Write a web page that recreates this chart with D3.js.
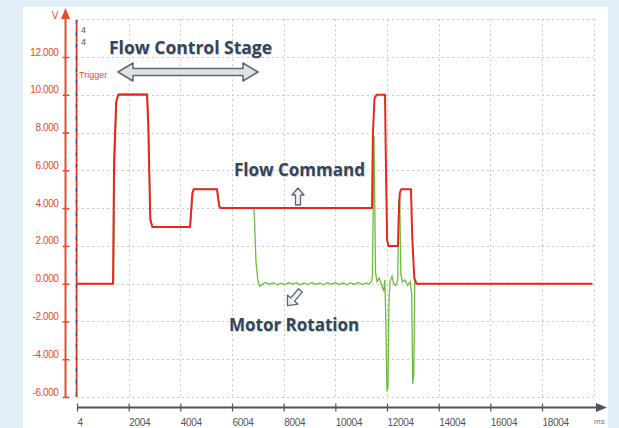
<!DOCTYPE html>
<html>
<head>
<meta charset="utf-8">
<script src="https://cdn.jsdelivr.net/npm/d3@7"></script>
<style>
  body { margin: 0; background: #e2eef8; }
  svg { display: block; }
</style>
</head>
<body>
<div id="chart"></div>
<script>
// Flow command (red) and motor rotation (green), time in ms, value in V
var cmdTime  = [4, 1398, 1440, 1520, 1600, 2714, 2760, 2840, 2920, 4378, 4420, 4470, 4520, 5423, 5460, 5510, 5560, 11424, 11460, 11520, 11600, 11927, 11960, 12010, 12060, 12430, 12460, 12500, 12550, 12933, 12980, 13060, 13140, 19950];
var cmdVolts = [0, 0, 6.5, 9.6, 10, 10, 8.5, 3.4, 3, 3, 3.8, 4.8, 5, 5, 4.6, 4.1, 4, 4, 8.0, 9.8, 10, 10, 6.5, 2.3, 2, 2, 3.6, 4.8, 5, 5, 2.5, 0.3, 0, 0];

var motTime  = [4, 1420, 1460, 1540, 1620, 2730, 2770, 2850, 2930, 4390, 4430, 4480, 4530, 5430, 5470, 5520, 5570, 6850, 6880, 6930, 7000, 7080, 7166, 7300, 7450, 7600, 7750, 7900, 8050, 8200, 8350, 8500, 8650, 8800, 8950, 9100, 9250, 9400, 9550, 9700, 9850, 10000, 10150, 10300, 10450, 10600, 10750, 10900, 11050, 11200, 11300, 11400, 11440, 11500, 11560, 11620, 11700, 11800, 11880, 11920, 11960, 12000, 12040, 12080, 12120, 12200, 12260, 12340, 12420, 12460, 12500, 12540, 12600, 12700, 12800, 12900, 12960, 13000, 13040, 13080, 13150, 19950];
var motVolts = [0, 0, 6.5, 9.7, 10.05, 10.05, 8.5, 3.4, 3, 3, 3.8, 4.8, 5, 5, 4.6, 4.1, 4, 4, 3.2, 1.2, 0.2, -0.15, -0.05, 0.06, -0.04, 0.05, -0.06, 0.03, -0.05, 0.06, -0.03, 0.05, -0.06, 0.04, -0.05, 0.06, -0.04, 0.03, -0.06, 0.05, -0.03, 0.06, -0.05, 0.04, -0.06, 0.05, -0.04, 0.06, -0.05, 0.04, -0.03, 0.1, 0.4, 7.8, 0.6, 0.1, 0.3, -0.1, -0.4, 0.2, -2, -5.7, -5.5, -1, 0.1, 0.4, 0, -0.1, 0.2, 4.5, 4.2, 0.5, 0.1, 0.2, -0.1, 0.1, -0.6, -5.3, -4.8, 0.2, 0, 0];

var xTicks = [4, 2004, 4004, 6004, 8004, 10004, 12004, 14004, 16004, 18004];
var xGrid  = [4, 2004, 4004, 6004, 8004, 10004, 12004, 14004, 16004, 18004, 20004];
var yTicks = [-6, -4, -2, 0, 2, 4, 6, 8, 10, 12];
var yGrid  = [-6, -4, -2, 0, 2, 4, 6, 8, 10, 12, 14];

var W = 619, H = 428;
var red = "#e8261c", green = "#6dbd3e", axisRed = "#e84a2e", dark = "#4b5560";

var svg = d3.select("#chart").append("svg")
  .attr("width", W).attr("height", H);

// background + white panel
svg.append("rect").attr("width", W).attr("height", H).attr("fill", "#e2eef8");
svg.append("rect").attr("x", 23).attr("y", 7).attr("width", 585).attr("height", H - 7)
  .attr("fill", "#ffffff");

var x = d3.scaleLinear().domain([4, 18004]).range([77, 542]);
var y = d3.scaleLinear().domain([-6, 12]).range([397, 57]);

// dotted grid
var grid = svg.append("g").attr("stroke", "#c9c9c9").attr("stroke-dasharray", "2,3").attr("stroke-width", 1);
grid.selectAll(".h").data(yGrid).enter().append("line")
  .attr("x1", 77).attr("x2", x(20004))
  .attr("y1", function(d) { return Math.round(y(d)) + 0.5; })
  .attr("y2", function(d) { return Math.round(y(d)) + 0.5; });
grid.selectAll(".v").data(xGrid).enter().append("line")
  .attr("y1", y(14)).attr("y2", y(-6))
  .attr("x1", function(d) { return Math.round(x(d)) + 0.5; })
  .attr("x2", function(d) { return Math.round(x(d)) + 0.5; });

// Y axis (red) with arrow
var yAxis = svg.append("g")
  .attr("transform", "translate(65.5,0)")
  .call(d3.axisLeft(y).tickValues(yTicks).tickFormat(function(d) { return d.toFixed(3); }));
yAxis.select(".domain").remove();
yAxis.selectAll(".tick line").attr("x1", -3).attr("x2", 4).attr("stroke", axisRed).attr("stroke-width", 1.5);
yAxis.selectAll(".tick text")
  .attr("x", -7).attr("dy", "-0.2em")
  .attr("fill", axisRed)
  .style("font-family", "Liberation Sans, Arial, sans-serif")
  .style("font-size", "10px")
  .style("letter-spacing", "-0.4px");
svg.append("line").attr("x1", 65.5).attr("x2", 65.5).attr("y1", y(-6)).attr("y2", 14)
  .attr("stroke", axisRed).attr("stroke-width", 2);
svg.append("path").attr("d", "M65.5,8 L61,19 L70,19 Z").attr("fill", axisRed);
svg.append("text").attr("x", 55).attr("y", 19).text("V")
  .attr("fill", axisRed).attr("text-anchor", "middle")
  .style("font-family", "Liberation Sans, Arial, sans-serif").style("font-size", "10px");

// trigger axis
svg.append("line").attr("x1", 76.5).attr("x2", 76.5).attr("y1", 20).attr("y2", y(-6))
  .attr("stroke", red).attr("stroke-width", 1.5);
svg.append("line").attr("x1", 76.5).attr("x2", 76.5).attr("y1", 20).attr("y2", y(-6))
  .attr("stroke", dark).attr("stroke-width", 1.5).attr("stroke-dasharray", "4,8");
svg.selectAll(".lab4").data([33, 45]).enter().append("text")
  .attr("x", 81).attr("y", function(d) { return d; }).text("4")
  .attr("fill", "#555").style("font-family", "Liberation Sans, Arial, sans-serif").style("font-size", "9px");
svg.append("text").attr("x", 79).attr("y", 78).text("Trigger")
  .attr("fill", axisRed).style("font-family", "Liberation Sans, Arial, sans-serif").style("font-size", "9px");

// X axis with arrow
var xAxis = svg.append("g")
  .attr("transform", "translate(0,407.5)")
  .call(d3.axisBottom(x).tickValues(xTicks).tickFormat(function(d) { return d; }));
xAxis.select(".domain").remove();
xAxis.selectAll(".tick line").attr("y1", -4).attr("y2", 4).attr("stroke", dark).attr("stroke-width", 1.2);
xAxis.selectAll(".tick text")
  .attr("y", 11).attr("text-anchor", "start").attr("fill", "#555")
  .style("font-family", "Liberation Sans, Arial, sans-serif").style("font-size", "10px")
  .style("letter-spacing", "-0.3px");
svg.append("line").attr("x1", 77).attr("x2", 598).attr("y1", 407.5).attr("y2", 407.5)
  .attr("stroke", dark).attr("stroke-width", 2);
svg.append("path").attr("d", "M607,407.5 L596,403 L596,412 Z").attr("fill", dark);
svg.append("text").attr("x", 594).attr("y", 424).text("ms")
  .attr("fill", "#777").style("font-family", "Liberation Sans, Arial, sans-serif").style("font-size", "8px");

// series
var motData = motTime.map(function(t, i) { return [t, motVolts[i]]; });
var cmdData = cmdTime.map(function(t, i) { return [t, cmdVolts[i]]; });
var line = d3.line().x(function(d) { return x(d[0]); }).y(function(d) { return y(d[1]); });

svg.append("path").datum(motData).attr("d", line)
  .attr("fill", "none").attr("stroke", green).attr("stroke-width", 1.3);
svg.append("path").datum(cmdData).attr("d", line)
  .attr("fill", "none").attr("stroke", red).attr("stroke-width", 2)
  .attr("stroke-linejoin", "round");

// annotations
var annFont = "'Open Sans', 'Noto Sans', sans-serif";
function label(tx, ty, s, size) {
  svg.append("text").attr("x", tx + 0.7).attr("y", ty + 0.7).text(s)
    .attr("fill", "#9aa3ad").attr("opacity", 0.5)
    .style("font-family", annFont).style("font-weight", 700).style("font-size", size + "px");
  svg.append("text").attr("x", tx).attr("y", ty).text(s)
    .attr("fill", "#34455a")
    .style("font-family", annFont).style("font-weight", 700).style("font-size", size + "px");
}
label(109, 54, "Flow Control Stage", 17.5);
label(234, 176, "Flow Command", 17);
label(229, 331, "Motor Rotation", 17);

// double arrow
svg.append("path")
  .attr("d", "M118,72 L133,63 L133,68.5 L243,68.5 L243,63 L258,72 L243,81 L243,75.5 L133,75.5 L133,81 Z")
  .attr("fill", "#dce2e7").attr("stroke", "#5d6873").attr("stroke-width", 1.5).attr("stroke-linejoin", "round");

// up arrow
svg.append("path")
  .attr("d", "M298,188 L304,195 L300.5,195 L300.5,205 L295.5,205 L295.5,195 L292,195 Z")
  .attr("fill", "#eef1f3").attr("stroke", "#5d6873").attr("stroke-width", 1.3).attr("stroke-linejoin", "round");

// down-left arrow
svg.append("path")
  .attr("d", "M0,-10 L7,-2 L2.5,-2 L2.5,10 L-2.5,10 L-2.5,-2 L-7,-2 Z")
  .attr("transform", "translate(294,298) rotate(-140)")
  .attr("fill", "#eef1f3").attr("stroke", "#5d6873").attr("stroke-width", 1.3).attr("stroke-linejoin", "round");
</script>
</body>
</html>
